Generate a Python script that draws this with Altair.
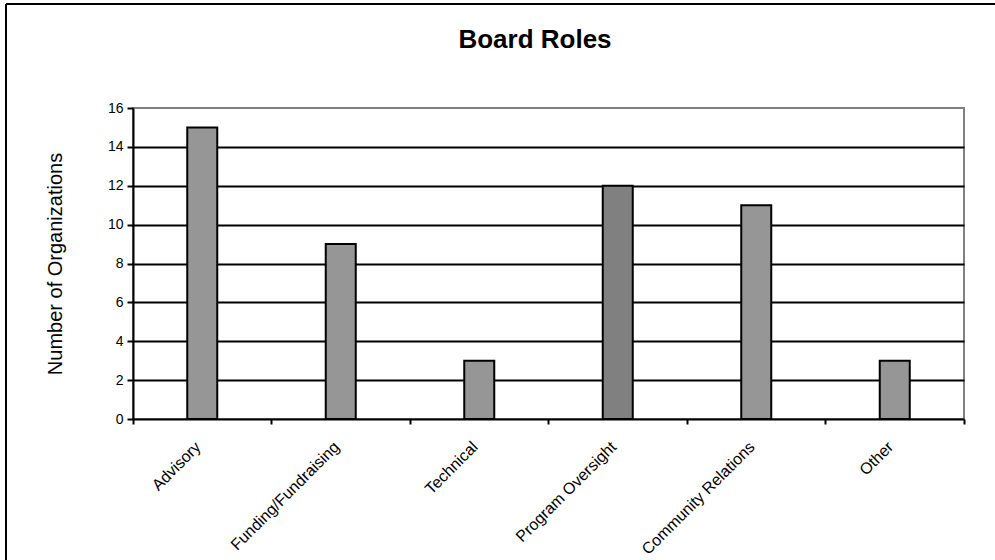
import altair as alt
import pandas as pd

roles = ["Advisory", "Funding/Fundraising", "Technical", "Program Oversight",
         "Community Relations", "Other"]
counts = [15, 9, 3, 12, 11, 3]
y_ticks = [0, 2, 4, 6, 8, 10, 12, 14, 16]
grid_values = [2, 4, 6, 8, 10, 12, 14]
title_text = "Board Roles"
y_title = "Number of Organizations"
highlight = "Program Oversight"

df = pd.DataFrame({"role": roles, "count": counts})
one = pd.DataFrame({"k": [0]})

FONT = "Liberation Sans"

x_scale = alt.Scale(domain=roles, paddingInner=0, paddingOuter=0)
y_scale = alt.Scale(domain=[0, 16], nice=False)

# invisible layer carrying the horizontal gridlines and the boundary ticks
helper = alt.Chart(df).mark_point(opacity=0).encode(
    x=alt.X("role:N", sort=roles, scale=x_scale,
            axis=alt.Axis(title=None, labels=False, domain=False, grid=False,
                          ticks=True, bandPosition=1, tickExtra=True,
                          tickSize=5, tickWidth=2, tickColor="black",
                          orient="bottom")),
    y=alt.Y("count:Q", scale=y_scale,
            axis=alt.Axis(title=None, values=grid_values, grid=True,
                          gridColor="black", gridWidth=2, labels=False,
                          ticks=False, domain=False, orient="left")),
)

bars = alt.Chart(df).mark_bar(size=30, stroke="black", strokeWidth=2).encode(
    x=alt.X("role:N", sort=roles, scale=x_scale,
            axis=alt.Axis(title=None, labelAngle=-45, labelAlign="right",
                          labelBaseline="middle", labelPadding=25,
                          labelOffset=-4, ticks=False,
                          domainColor="black", domainWidth=2, grid=False,
                          labelFont=FONT, labelFontSize=16, labelColor="black",
                          orient="bottom")),
    y=alt.Y("count:Q", scale=y_scale,
            axis=alt.Axis(title=y_title, values=y_ticks, grid=False,
                          domainColor="black", domainWidth=2,
                          tickColor="black", tickWidth=2, tickSize=6,
                          labelPadding=4, labelFont=FONT, labelFontSize=14,
                          labelColor="black", titleFont=FONT, titleFontSize=20,
                          titleFontWeight="normal", titleColor="black",
                          titlePadding=42, orient="left")),
    color=alt.condition(f"datum.role == '{highlight}'",
                        alt.value("#808080"), alt.value("#969696")),
)

# outer chart frame: only its top and left edges fall inside the picture
frame_top = alt.Chart(one).mark_rule(color="black", strokeWidth=2).encode(
    x=alt.value(-127), x2=alt.value(862), y=alt.value(-104)
)
frame_left = alt.Chart(one).mark_rule(color="black", strokeWidth=2).encode(
    x=alt.value(-127), y=alt.value(-104), y2=alt.value(452)
)

title = alt.Chart(one).mark_text(text=title_text, font=FONT, fontSize=26,
                                 fontWeight="bold", align="center",
                                 baseline="alphabetic", color="black").encode(
    x=alt.value(402), y=alt.value(-60)
)

chart = alt.layer(helper, bars, frame_top, frame_left, title).resolve_axis(
    x="independent", y="independent"
).properties(
    width=831, height=311,
    autosize=alt.AutoSizeParams(type="none"),
    padding={"left": 133, "top": 108, "right": 31, "bottom": 141},
    background="white",
).configure_view(stroke="#808080", strokeWidth=2)

chart.save("out.html", embed_options={"renderer": "svg", "actions": False})
